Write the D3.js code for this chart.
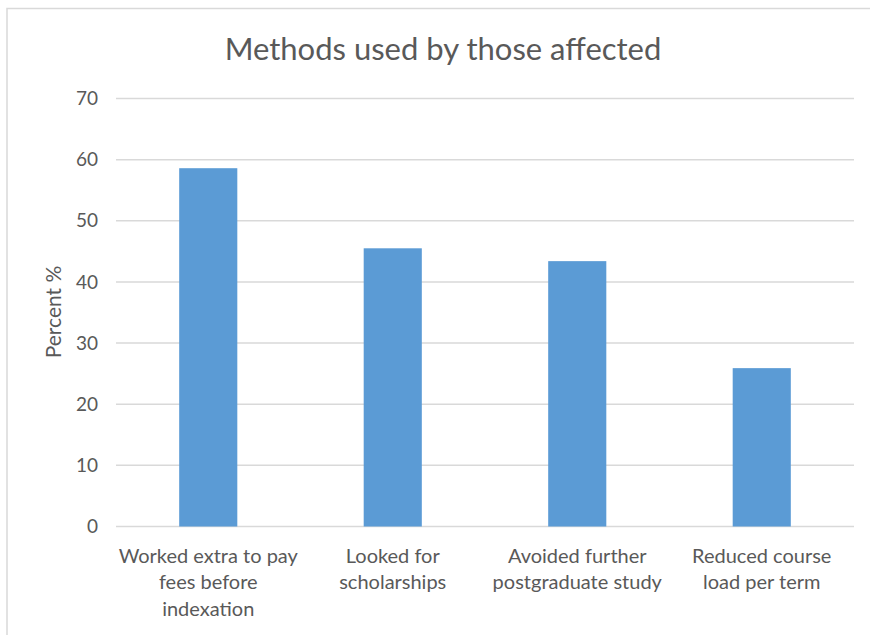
<!DOCTYPE html>
<html>
<head>
<meta charset="utf-8">
<script src="https://cdn.jsdelivr.net/npm/d3@7"></script>
<style>
  body { margin: 0; background: #fff; }
  text { font-family: Lato, "Open Sans", sans-serif; fill: #595959; }
</style>
</head>
<body>
<script>
"use strict";

// chart data
const categories = [
    ["Worked extra to pay", "fees before", "indexation"],
    ["Looked for", "scholarships"],
    ["Avoided further", "postgraduate study"],
    ["Reduced course", "load per term"]
]
const values = [58.6, 45.5, 43.4, 25.9]
const yTicks = [0, 10, 20, 30, 40, 50, 60, 70]

const chartTitle = "Methods used by those affected"
const yTitle = "Percent %"

const measurements = {
    width: 870,
    height: 635,
    left: 116,
    right: 854,
    top: 98.5,
    bottom: 526.5
}

const svg = d3.select("body").append("svg")
    .attr("width", measurements.width)
    .attr("height", measurements.height)

// outer chart border (only left and top are inside the frame)
svg.append("rect")
    .attr("x", 7)
    .attr("y", 8.5)
    .attr("width", 900)
    .attr("height", 700)
    .attr("fill", "none")
    .attr("stroke", "#d9d9d9")
    .attr("stroke-width", 1.5)

const idx = categories.map((d, i) => i)

const scaleX = d3.scaleBand()
    .domain(idx)
    .range([measurements.left, measurements.right])
    .paddingInner(0.685)
    .paddingOuter(0.3425)

const scaleY = d3.scaleLinear()
    .domain([0, 70])
    .range([measurements.bottom, measurements.top])

// gridlines
svg.append("g")
    .selectAll("line")
    .data(yTicks)
    .enter()
    .append("line")
        .attr("x1", measurements.left)
        .attr("x2", measurements.right)
        .attr("y1", d => scaleY(d))
        .attr("y2", d => scaleY(d))
        .attr("stroke", "#d9d9d9")
        .attr("stroke-width", 1.5)

// bars
svg.append("g")
    .selectAll("rect")
    .data(values)
    .enter()
    .append("rect")
        .attr("x", (d, i) => scaleX(i))
        .attr("y", d => scaleY(d))
        .attr("width", scaleX.bandwidth())
        .attr("height", d => scaleY(0) - scaleY(d))
        .attr("fill", "#5b9bd5")

// y axis labels
const yAxis = d3.axisLeft(scaleY)
    .tickValues(yTicks)
    .tickSize(0)
    .tickPadding(0)

const yG = svg.append("g")
    .attr("transform", "translate(98,0)")
    .call(yAxis)
yG.select(".domain").remove()
yG.selectAll("text")
    .attr("font-family", null)
    .style("font-size", "19px")

// x axis category labels
const xAxis = d3.axisBottom(scaleX)
    .tickSize(0)
    .tickFormat("")

const xG = svg.append("g")
    .attr("transform", "translate(0," + measurements.bottom + ")")
    .call(xAxis)
xG.select(".domain").remove()

xG.selectAll(".tick")
    .append("text")
    .attr("text-anchor", "middle")
    .style("font-size", "20px")
    .selectAll("tspan")
    .data(d => categories[d])
    .enter()
    .append("tspan")
        .attr("x", 0)
        .attr("y", (d, i) => 36 + i * 26.5)
        .text(d => d)

// title
svg.append("text")
    .attr("x", 443)
    .attr("y", 60)
    .attr("text-anchor", "middle")
    .style("font-size", "31px")
    .text(chartTitle)

// y axis title
svg.append("text")
    .attr("transform", "translate(61," + 312 + ")rotate(-90)")
    .attr("text-anchor", "middle")
    .style("font-size", "21px")
    .text(yTitle)
</script>
</body>
</html>
